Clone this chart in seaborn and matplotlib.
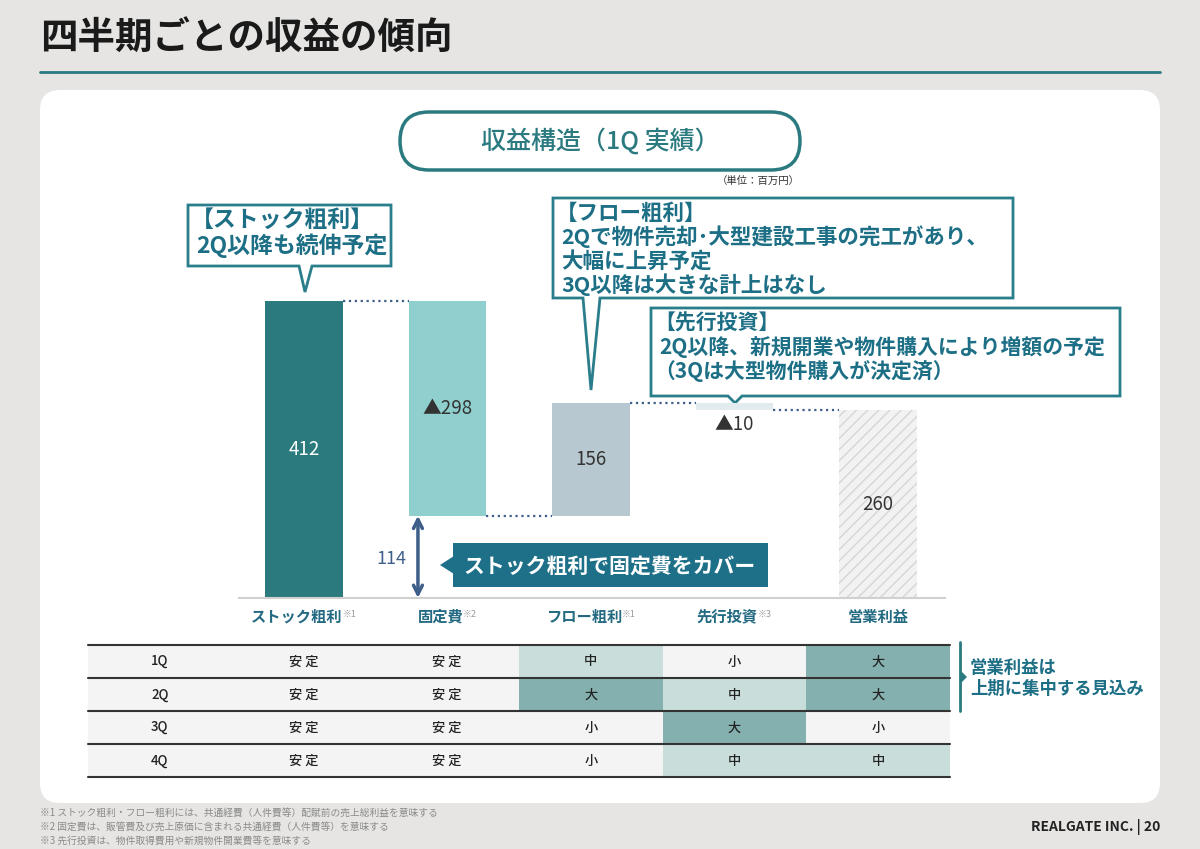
import numpy as np
import pandas as pd
import matplotlib.pyplot as plt
import seaborn as sns
from matplotlib.patches import FancyBboxPatch, Polygon, Rectangle
from matplotlib.colors import ListedColormap

# ---- data ----
categories = ['ストック粗利', '固定費', 'フロー粗利', '先行投資', '営業利益']
footmarks = ['※1', '※2', '※1', '※3', '']
changes = [412, -298, 156, -10]
operating_profit = 260
value_labels = ['412', '▲298', '156', '▲10', '260']

quarters = ['1Q', '2Q', '3Q', '4Q']
stock_trend = ['安 定', '安 定', '安 定', '安 定']
fixed_trend = ['安 定', '安 定', '安 定', '安 定']
flow_trend = ['中', '大', '小', '小']
invest_trend = ['小', '中', '大', '中']
profit_trend = ['大', '大', '小', '中']
level_map = {'小': 0, '中': 1, '大': 2}

bubble_stock = ['【ストック粗利】', '2Q以降も続伸予定']
bubble_flow = ['【フロー粗利】', '2Qで物件売却･大型建設工事の完工があり、',
               '大幅に上昇予定', '3Q以降は大きな計上はなし']
bubble_invest = ['【先行投資】', '2Q以降、新規開業や物件購入により増額の予定',
                 '（3Qは大型物件購入が決定済）']
footnotes = ['※1 ストック粗利・フロー粗利には、共通経費（人件費等）配賦前の売上総利益を意味する',
             '※2 固定費は、販管費及び売上原価に含まれる共通経費（人件費等）を意味する',
             '※3 先行投資は、物件取得費用や新規物件開業費等を意味する']

BG = '#e6e5e3'
TEAL = '#2a7a80'
TXT = '#1d6f86'
NAVY = '#3d5f8a'
bar_colors = ['#2a7a7e', '#8fd0cf', '#b8c8d0', '#e2ebee', '#f2f2f2']

sns.set_theme(style='white')
plt.rcParams['font.family'] = ['Noto Sans CJK JP', 'DejaVu Sans']
plt.rcParams['hatch.color'] = '#d6d6d6'
plt.rcParams['hatch.linewidth'] = 1.0

W, H = 1200, 849
fig = plt.figure(figsize=(12, 8.49), dpi=100)
fig.patch.set_facecolor(BG)


def frac(x0, y0, x1, y1):
    return [x0 / W, 1 - y1 / H, (x1 - x0) / W, (y1 - y0) / H]


# background layer in pixel coordinates
bg = fig.add_axes([0, 0, 1, 1])
bg.set_xlim(0, W)
bg.set_ylim(H, 0)
bg.axis('off')

bg.text(40, 38, '四半期ごとの収益の傾向', fontsize=27, fontweight='bold',
        color='#1a1a1a', va='center', ha='left')
bg.plot([40, 1160], [72, 72], color=TEAL, lw=2)
bg.add_patch(FancyBboxPatch((40, 90), 1120, 713,
                            boxstyle='round,pad=0,rounding_size=20',
                            fc='white', ec='none'))
bg.add_patch(FancyBboxPatch((400, 112), 400, 58,
                            boxstyle='round,pad=0,rounding_size=29',
                            fc='white', ec=TEAL, lw=2.5))
bg.text(600, 141, '収益構造（1Q 実績）', fontsize=18, color=TEAL,
        fontweight='medium', ha='center', va='center')
bg.text(800, 181, '（単位：百万円）', fontsize=7.5, color='#333333',
        ha='right', va='center')


def bubble(box, tail, lines, fs, step):
    x0, y0, x1, y1 = box
    bl, br, tx, ty = tail
    verts = [(x0, y0), (x1, y0), (x1, y1), (br, y1), (tx, ty), (bl, y1), (x0, y1)]
    bg.add_patch(Polygon(verts, closed=True, fc='white', ec='#2a7d8a', lw=2,
                         joinstyle='miter'))
    ty0 = y0 + 15 + (step - 24) * 0.5
    for k, line in enumerate(lines):
        dx = 3 if line[0] in '【（' else 8
        bg.text(x0 + dx, ty0 + k * step, line, fontsize=fs, fontweight='bold',
                color=TXT, ha='left', va='center')


bubble((188, 205, 391, 266), (299, 312, 305, 292), bubble_stock, 16.5, 25)
bubble((553, 198, 1013, 298), (583, 600, 591, 390), bubble_flow, 15.5, 24)
bubble((651, 308, 1120, 396), (728, 742, 735, 403), bubble_invest, 15, 24)

# callout
bg.add_patch(Rectangle((453, 543), 315, 44, fc='#1e7088', ec='none'))
bg.add_patch(Polygon([(454, 556), (440, 565), (454, 574)], closed=True,
                     fc='#1e7088', ec='none'))
bg.text(610, 566, 'ストック粗利で固定費をカバー', fontsize=15, fontweight='bold',
        color='white', ha='center', va='center')

# ---- waterfall ----
totals = np.cumsum(changes)
starts = np.concatenate([[0], totals[:-1]])
bottoms = list(np.minimum(starts, totals)) + [0]
heights = list(np.abs(changes)) + [operating_profit]

ax = fig.add_axes(frac(239, 272, 945, 598))
ax.set_facecolor('none')
bw = 0.54
sns.barplot(x=categories, y=heights, bottom=bottoms, color=bar_colors[0],
            width=bw, errorbar=None, ax=ax, linewidth=0)
for p, c in zip(ax.patches, bar_colors):
    p.set_facecolor(c)
    p.set_linewidth(0)
last = ax.patches[-1]
last.set_edgecolor('#d6d6d6')
last.set_hatch('///')

ax.set_xlim(-0.453, 4.467)
ax.set_ylim(0, 451.5)
for s in ['top', 'left', 'right']:
    ax.spines[s].set_visible(False)
ax.spines['bottom'].set_color('#d0d0d0')
ax.spines['bottom'].set_linewidth(1.5)
ax.set_xticks([])
ax.set_yticks([])
ax.set_xlabel('')
ax.set_ylabel('')

# connectors
for i, lvl in enumerate(totals):
    ax.hlines(lvl, i + bw / 2, i + 1 - bw / 2, colors=NAVY, linestyles=':', lw=1.6)

# value labels
for i, lab in enumerate(value_labels):
    b, h = bottoms[i], heights[i]
    y = b + h / 2
    if h < 30:
        y = b - 20
    ax.text(i, y, lab, ha='center', va='center', fontsize=13.5,
            color='white' if i == 0 else '#333333')

# gap arrow
ax.annotate('', xy=(0.794, 0), xytext=(0.794, totals[1]),
            arrowprops=dict(arrowstyle='<->', color=NAVY, lw=2.5,
                            shrinkA=0, shrinkB=0, mutation_scale=16))
ax.text(0.61, 54, f'{totals[1]}', ha='center', va='center', fontsize=13,
        color=NAVY)

# category labels
for i, (cat, fm) in enumerate(zip(categories, footmarks)):
    t = ax.text(i - (0.05 if fm else 0), -26, cat, ha='center', va='center',
                fontsize=11, fontweight='bold', color='#236a82', clip_on=False)
    if fm:
        ax.annotate(fm, xy=(1, 0.95), xycoords=t, ha='left', va='top',
                    fontsize=6.5, color='#9a9a9a')

# ---- table ----
tab = fig.add_axes(frac(88, 645, 950, 777))
df = pd.DataFrame({'期': quarters, 'ストック粗利': stock_trend, '固定費': fixed_trend,
                   'フロー粗利': flow_trend, '先行投資': invest_trend,
                   '営業利益': profit_trend})
levels = df.apply(lambda col: col.map(lambda v: level_map.get(v, 0)))
cmap = ListedColormap(['#f4f4f4', '#c9dedb', '#84b1af'])
sns.heatmap(levels, annot=df.values, fmt='', cmap=cmap, vmin=-0.5, vmax=2.5,
            cbar=False, linewidths=0, xticklabels=False, yticklabels=False,
            annot_kws=dict(fontsize=9.5, color='#222222', fontweight='medium'),
            ax=tab)
tab.set_xlabel('')
tab.set_ylabel('')
for y in range(len(quarters) + 1):
    tab.axhline(y, color='#333333', lw=1.5, clip_on=False)

# bracket note
bg.plot([960, 960], [642, 711], color=TEAL, lw=2)
bg.add_patch(Polygon([(961, 671), (967, 677), (961, 683)], closed=True, fc=TEAL, ec='none'))
bg.text(970, 668, '営業利益は', fontsize=12.5, fontweight='bold', color=TXT, va='center')
bg.text(970, 689, '上期に集中する見込み', fontsize=12.5, fontweight='bold', color=TXT, va='center')

# footer
for k, note in enumerate(footnotes):
    bg.text(40, 813 + k * 14, note, fontsize=7, color='#8a8a8a', va='center')
bg.text(1160, 827, 'REALGATE INC. | 20', fontsize=10, fontweight='bold',
        color='#222222', ha='right', va='center')

fig.savefig('out.png', dpi=100, facecolor=BG)
